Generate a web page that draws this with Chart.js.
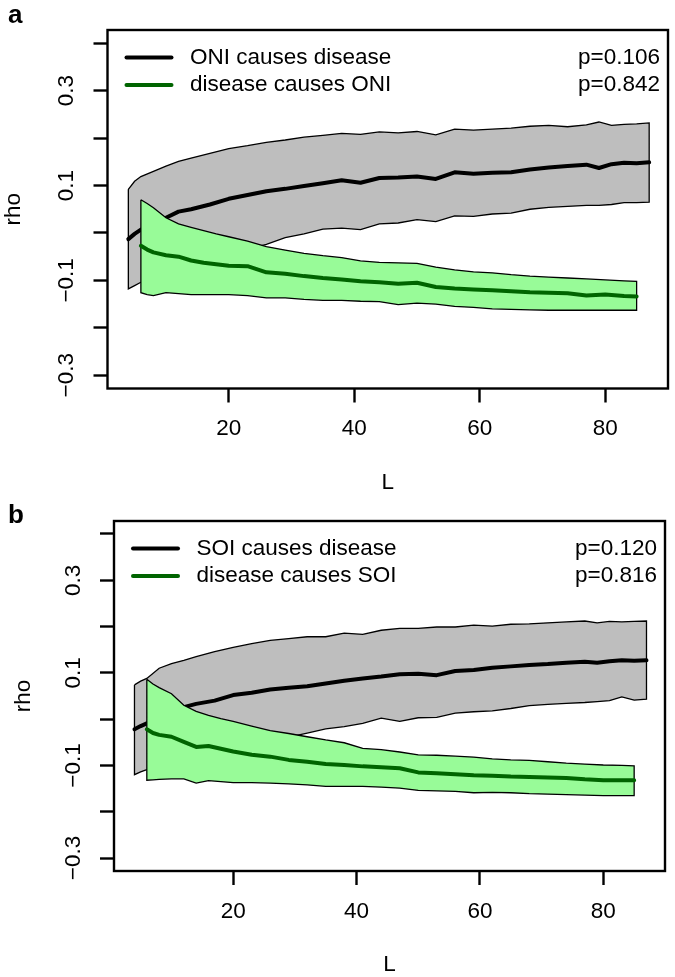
<!DOCTYPE html>
<html>
<head>
<meta charset="utf-8">
<script src="https://cdn.jsdelivr.net/npm/chart.js@4.4.1/dist/chart.umd.min.js"></script>
<style>
  html, body { margin: 0; padding: 0; background: #fff; }
  #wrap { position: relative; width: 675px; height: 977px; overflow: hidden; }
  canvas { position: absolute; left: 0; }
</style>
</head>
<body>
<div id="wrap">
  <canvas id="ca" width="675" height="500" style="top:0;width:675px;height:500px"></canvas>
  <canvas id="cb" width="675" height="477" style="top:500px;width:675px;height:477px"></canvas>
</div>
<script>
// L values (library size) for the two directions
const L_FWD = [4, 5, 6, 8, 10, 12, 14, 17, 20, 23, 26, 29, 32, 35, 38, 41, 44, 47, 50, 53, 56, 59, 62, 65, 68, 71, 74, 77, 79, 81, 83, 85, 87];
const L_REV = [6, 7, 8, 10, 12, 14, 16, 18, 20, 23, 26, 29, 32, 35, 38, 41, 44, 47, 50, 53, 56, 59, 62, 65, 68, 71, 74, 77, 80, 83, 85];

// panel a: ONI causes disease (grey band)
const ONI_DIS_UP = [0.092, 0.109, 0.119, 0.130, 0.141, 0.151, 0.158, 0.168, 0.178, 0.184, 0.191, 0.196, 0.202, 0.206, 0.210, 0.208, 0.213, 0.211, 0.214, 0.207, 0.219, 0.217, 0.219, 0.221, 0.225, 0.227, 0.224, 0.228, 0.234, 0.227, 0.229, 0.230, 0.232];
const ONI_DIS_MEAN = [-0.013, -0.002, 0.007, 0.022, 0.032, 0.045, 0.050, 0.060, 0.072, 0.080, 0.088, 0.093, 0.099, 0.105, 0.111, 0.106, 0.116, 0.117, 0.119, 0.114, 0.128, 0.125, 0.127, 0.128, 0.134, 0.138, 0.141, 0.144, 0.137, 0.145, 0.148, 0.147, 0.149];
const ONI_DIS_LO = [-0.118, -0.111, -0.104, -0.095, -0.085, -0.075, -0.066, -0.055, -0.045, -0.034, -0.024, -0.010, -0.002, 0.008, 0.010, 0.007, 0.019, 0.021, 0.028, 0.024, 0.036, 0.035, 0.040, 0.042, 0.050, 0.054, 0.056, 0.058, 0.058, 0.060, 0.064, 0.064, 0.065];
// panel a: disease causes ONI (green band)
const DIS_ONI_UP = [0.070, 0.062, 0.053, 0.032, 0.019, 0.012, 0.005, -0.002, -0.008, -0.017, -0.029, -0.036, -0.043, -0.048, -0.052, -0.059, -0.062, -0.063, -0.064, -0.072, -0.078, -0.082, -0.084, -0.088, -0.091, -0.093, -0.095, -0.097, -0.099, -0.101, -0.102];
const DIS_ONI_MEAN = [-0.027, -0.035, -0.041, -0.047, -0.050, -0.058, -0.063, -0.066, -0.069, -0.070, -0.083, -0.086, -0.091, -0.095, -0.098, -0.102, -0.104, -0.107, -0.105, -0.114, -0.117, -0.119, -0.121, -0.123, -0.125, -0.126, -0.127, -0.132, -0.130, -0.133, -0.134];
const DIS_ONI_LO = [-0.126, -0.130, -0.132, -0.126, -0.128, -0.130, -0.130, -0.130, -0.130, -0.132, -0.137, -0.137, -0.140, -0.142, -0.142, -0.144, -0.145, -0.151, -0.148, -0.150, -0.155, -0.157, -0.160, -0.161, -0.162, -0.163, -0.163, -0.163, -0.163, -0.163, -0.163];

// panel b: SOI causes disease (grey band)
const SOI_DIS_UP = [0.074, 0.082, 0.088, 0.110, 0.120, 0.127, 0.135, 0.146, 0.155, 0.163, 0.170, 0.174, 0.178, 0.178, 0.186, 0.183, 0.192, 0.196, 0.196, 0.199, 0.199, 0.203, 0.201, 0.205, 0.206, 0.208, 0.210, 0.212, 0.208, 0.211, 0.210, 0.211, 0.212];
const SOI_DIS_MEAN = [-0.022, -0.015, -0.009, 0.003, 0.015, 0.026, 0.033, 0.040, 0.052, 0.057, 0.064, 0.068, 0.071, 0.077, 0.083, 0.088, 0.092, 0.097, 0.098, 0.095, 0.104, 0.106, 0.111, 0.114, 0.117, 0.119, 0.122, 0.124, 0.122, 0.125, 0.127, 0.126, 0.127];
const SOI_DIS_LO = [-0.120, -0.114, -0.109, -0.100, -0.090, -0.081, -0.074, -0.066, -0.058, -0.051, -0.045, -0.039, -0.030, -0.021, -0.016, -0.009, 0.002, -0.005, 0.003, 0.004, 0.013, 0.016, 0.018, 0.023, 0.029, 0.032, 0.034, 0.036, 0.038, 0.040, 0.048, 0.041, 0.043];
// panel b: disease causes SOI (green band)
const DIS_SOI_UP = [0.086, 0.076, 0.068, 0.055, 0.030, 0.017, 0.008, 0.001, -0.005, -0.015, -0.025, -0.031, -0.038, -0.045, -0.051, -0.063, -0.066, -0.071, -0.077, -0.078, -0.080, -0.082, -0.086, -0.088, -0.089, -0.092, -0.095, -0.097, -0.099, -0.100, -0.101];
const DIS_SOI_MEAN = [-0.022, -0.030, -0.034, -0.038, -0.049, -0.060, -0.058, -0.064, -0.070, -0.077, -0.081, -0.088, -0.092, -0.097, -0.099, -0.102, -0.104, -0.106, -0.115, -0.117, -0.119, -0.121, -0.122, -0.124, -0.125, -0.126, -0.127, -0.130, -0.132, -0.132, -0.132];
const DIS_SOI_LO = [-0.132, -0.131, -0.130, -0.129, -0.129, -0.138, -0.133, -0.135, -0.137, -0.137, -0.138, -0.140, -0.142, -0.145, -0.145, -0.145, -0.147, -0.149, -0.154, -0.155, -0.156, -0.159, -0.158, -0.159, -0.161, -0.162, -0.163, -0.164, -0.165, -0.165, -0.165];

const X_TICKS = [20, 40, 60, 80];
const Y_TICKS = [-0.3, -0.2, -0.1, 0, 0.1, 0.2, 0.3, 0.4];
const Y_LABELS = ["\u22120.3", "", "\u22120.1", "", "0.1", "", "0.3", ""];

const FONT = "'Liberation Sans', Arial, sans-serif";
const GREY = "#bebebe", PALE = "#98fb98", DARK = "#006400";

function band(L, up, lo) {
  const pts = L.map((x, i) => ({ x, y: up[i] }));
  for (let i = L.length - 1; i >= 0; i--) pts.push({ x: L[i], y: lo[i] });
  pts.push(pts[0]);
  return pts;
}
function line(L, v) { return L.map((x, i) => ({ x, y: v[i] })); }

// frame, legend and panel letter, drawn R style
const decor = {
  id: "decor",
  afterDraw(chart) {
    const { ctx, chartArea: a } = chart;
    const o = chart.options.plugins.decor;
    ctx.save();
    ctx.strokeStyle = "#000"; ctx.lineWidth = 2.4;
    ctx.strokeRect(a.left, a.top, a.right - a.left, a.bottom - a.top);
    ctx.font = `22.5px ${FONT}`; ctx.textBaseline = "middle"; ctx.fillStyle = "#000";
    o.items.forEach((it, i) => {
      const y = a.top + 27.5 + i * 27.5;
      ctx.strokeStyle = it.color; ctx.lineWidth = 4; ctx.lineCap = "round";
      ctx.beginPath(); ctx.moveTo(a.left + 19, y); ctx.lineTo(a.left + 64, y); ctx.stroke();
      ctx.textAlign = "left"; ctx.fillText(it.text, a.left + 82.5, y);
      ctx.textAlign = "right"; ctx.fillText(it.p, a.right - 8, y);
    });
    ctx.font = `bold 26px ${FONT}`; ctx.textAlign = "left"; ctx.textBaseline = "alphabetic";
    ctx.fillText(o.letter, 8, 22.5);
    ctx.restore();
  }
};

function makePanel(id, cfg) {
  const tickFont = { family: FONT, size: 22.5 };
  new Chart(document.getElementById(id), {
    type: "line",
    data: {
      datasets: [
        { data: line(L_REV, cfg.revMean), borderColor: DARK, borderWidth: 4, pointRadius: 0, fill: false, borderCapStyle: "round", borderJoinStyle: "round" },
        { data: band(L_REV, cfg.revUp, cfg.revLo), borderColor: "#000", borderWidth: 1.3, backgroundColor: PALE, pointRadius: 0, fill: "shape" },
        { data: line(L_FWD, cfg.fwdMean), borderColor: "#000", borderWidth: 4, pointRadius: 0, fill: false, borderCapStyle: "round", borderJoinStyle: "round" },
        { data: band(L_FWD, cfg.fwdUp, cfg.fwdLo), borderColor: "#000", borderWidth: 1.3, backgroundColor: GREY, pointRadius: 0, fill: "shape" }
      ]
    },
    options: {
      responsive: false, animation: false, events: [],
      layout: { padding: cfg.pad },
      plugins: {
        legend: { display: false }, tooltip: { enabled: false },
        decor: { letter: cfg.letter, items: cfg.legend }
      },
      scales: {
        x: {
          type: "linear", min: 0.68, max: 90,
          afterBuildTicks: s => { s.ticks = X_TICKS.map(v => ({ value: v })); },
          afterFit: s => { s.height = cfg.xh; },
          border: { display: false },
          grid: { drawOnChartArea: false, drawTicks: true, tickLength: 14, tickWidth: 2.4, tickColor: "#000" },
          ticks: { autoSkip: false, maxRotation: 0, padding: 13, color: "#000", font: tickFont, callback: v => String(v) },
          title: { display: true, text: "L", color: "#000", font: { family: FONT, size: 22.5, lineHeight: 1 }, padding: { top: 0, bottom: cfg.xtp } }
        },
        y: {
          type: "linear", min: -0.328, max: 0.428,
          afterBuildTicks: s => { s.ticks = Y_TICKS.map(v => ({ value: v })); },
          afterFit: s => { s.width = cfg.yw; },
          border: { display: false },
          grid: { drawOnChartArea: false, drawTicks: true, tickLength: 14, tickWidth: 2.4, tickColor: "#000" },
          ticks: { autoSkip: false, minRotation: 90, maxRotation: 90, crossAlign: "center", padding: 4, color: "#000", font: tickFont, callback: (v, i) => Y_LABELS[i] },
          title: { display: true, text: "rho", color: "#000", font: { family: FONT, size: 22.5, lineHeight: 1 }, padding: { top: cfg.ytp, bottom: 0 } }
        }
      }
    },
    plugins: [decor]
  });
}

makePanel("ca", {
  letter: "a", pad: { left: 0, top: 30, right: 7, bottom: 0 }, yw: 107.5, xh: 111.5, xtp: 5.7, ytp: 3,
  fwdUp: ONI_DIS_UP, fwdMean: ONI_DIS_MEAN, fwdLo: ONI_DIS_LO,
  revUp: DIS_ONI_UP, revMean: DIS_ONI_MEAN, revLo: DIS_ONI_LO,
  legend: [{ text: "ONI causes disease", p: "p=0.106", color: "#000" },
           { text: "disease causes ONI", p: "p=0.842", color: DARK }]
});
makePanel("cb", {
  letter: "b", pad: { left: 0, top: 21, right: 10, bottom: 0 }, yw: 114, xh: 106, xtp: 0.7, ytp: 13,
  fwdUp: SOI_DIS_UP, fwdMean: SOI_DIS_MEAN, fwdLo: SOI_DIS_LO,
  revUp: DIS_SOI_UP, revMean: DIS_SOI_MEAN, revLo: DIS_SOI_LO,
  legend: [{ text: "SOI causes disease", p: "p=0.120", color: "#000" },
           { text: "disease causes SOI", p: "p=0.816", color: DARK }]
});
</script>
</body>
</html>
